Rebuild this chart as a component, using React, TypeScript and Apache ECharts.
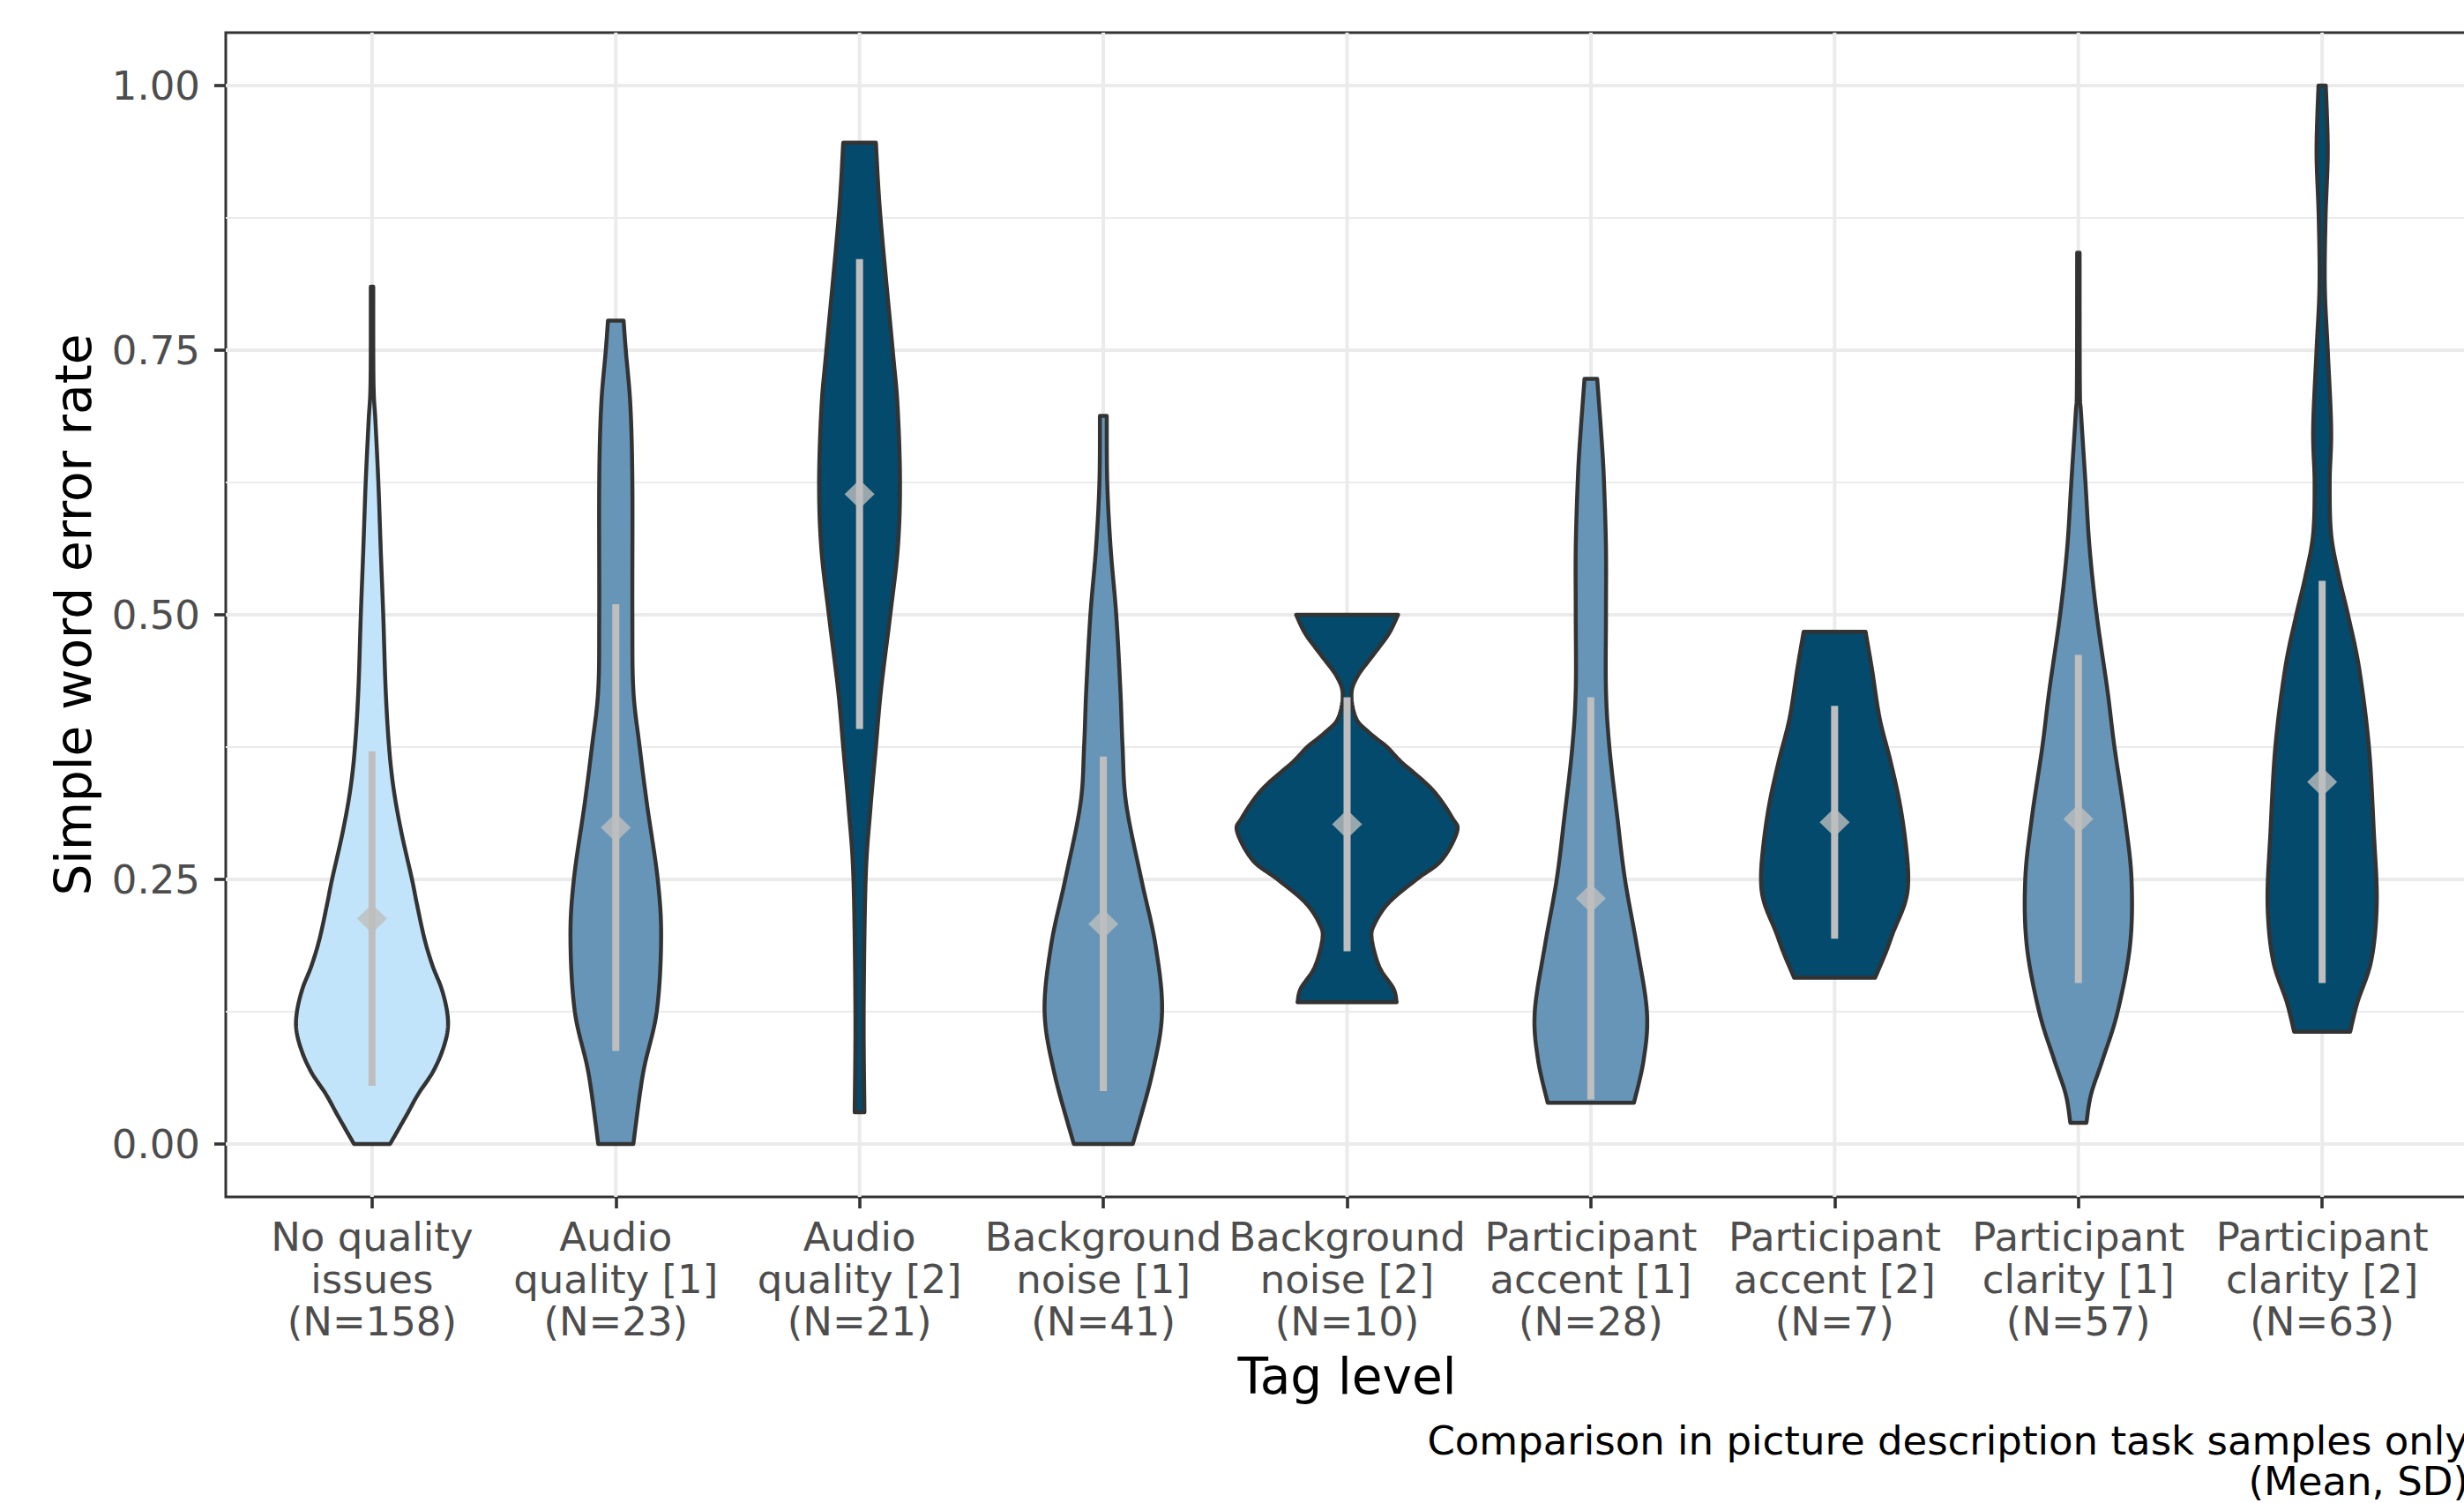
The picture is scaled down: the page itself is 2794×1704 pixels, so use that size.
import React, { useEffect, useRef } from "react";
import * as echarts from "echarts";

// ---------- data ----------
const tagNames = [
  "No quality\nissues",
  "Audio\nquality [1]",
  "Audio\nquality [2]",
  "Background\nnoise [1]",
  "Background\nnoise [2]",
  "Participant\naccent [1]",
  "Participant\naccent [2]",
  "Participant\nclarity [1]",
  "Participant\nclarity [2]",
];
const sampleSizes = [158, 23, 21, 41, 10, 28, 7, 57, 63];
const tagLevel = [0, 1, 2, 1, 2, 1, 2, 1, 2];

const means = [0.213, 0.299, 0.614, 0.208, 0.302, 0.232, 0.304, 0.307, 0.342];
const sds = [0.158, 0.211, 0.222, 0.158, 0.12, 0.19, 0.11, 0.155, 0.19];

const yMajorTicks = [0, 0.25, 0.5, 0.75, 1];
const yMinorTicks = [0.125, 0.375, 0.625, 0.875];

// violin outlines: [error rate, half width in category units]
const violinNoQuality = [
  [0.0, 0.074], [0.027, 0.141], [0.047, 0.189], [0.067, 0.247], [0.087, 0.287],
  [0.107, 0.31], [0.125, 0.308], [0.147, 0.285], [0.168, 0.249], [0.194, 0.215],
  [0.228, 0.183], [0.25, 0.164], [0.295, 0.12], [0.335, 0.089], [0.375, 0.07],
  [0.429, 0.056], [0.5, 0.046], [0.56, 0.036], [0.625, 0.026], [0.683, 0.014],
  [0.72, 0.006], [0.81, 0.005],
];
const violinAudio1 = [
  [0.0, 0.072], [0.067, 0.112], [0.125, 0.168], [0.194, 0.186], [0.25, 0.172],
  [0.321, 0.128], [0.375, 0.098], [0.429, 0.072], [0.5, 0.068], [0.625, 0.068],
  [0.697, 0.06], [0.75, 0.041], [0.778, 0.032],
];
const violinAudio2 = [
  [0.03, 0.02], [0.125, 0.017], [0.25, 0.025], [0.315, 0.044], [0.375, 0.067],
  [0.429, 0.088], [0.5, 0.126], [0.563, 0.157], [0.625, 0.166], [0.697, 0.156],
  [0.75, 0.136], [0.875, 0.086], [0.946, 0.067],
];
const violinNoise1 = [
  [0.0, 0.121], [0.067, 0.201], [0.125, 0.241], [0.188, 0.214], [0.25, 0.156],
  [0.321, 0.094], [0.375, 0.079], [0.429, 0.07], [0.5, 0.053], [0.563, 0.03],
  [0.625, 0.016], [0.688, 0.014],
];
const violinNoise2 = [
  [0.134, 0.203], [0.147, 0.19], [0.167, 0.133], [0.194, 0.101], [0.208, 0.113],
  [0.228, 0.171], [0.25, 0.285], [0.268, 0.387], [0.295, 0.451], [0.308, 0.432],
  [0.335, 0.349], [0.361, 0.222], [0.375, 0.164], [0.388, 0.094], [0.402, 0.037],
  [0.425, 0.018], [0.442, 0.043], [0.462, 0.107], [0.482, 0.171], [0.5, 0.209],
];
const violinAccent1 = [
  [0.039, 0.177], [0.08, 0.217], [0.125, 0.23], [0.188, 0.188], [0.25, 0.14],
  [0.308, 0.109], [0.375, 0.076], [0.429, 0.062], [0.5, 0.062], [0.563, 0.062],
  [0.625, 0.054], [0.663, 0.045], [0.723, 0.026],
];
const violinAccent2 = [
  [0.157, 0.166], [0.181, 0.21], [0.201, 0.242], [0.228, 0.289], [0.25, 0.302],
  [0.281, 0.293], [0.321, 0.268], [0.362, 0.229], [0.402, 0.185], [0.449, 0.153],
  [0.484, 0.127],
];
const violinClarity1 = [
  [0.02, 0.033], [0.047, 0.052], [0.08, 0.1], [0.125, 0.161], [0.188, 0.212],
  [0.25, 0.218], [0.308, 0.191], [0.375, 0.148], [0.429, 0.119], [0.5, 0.075],
  [0.563, 0.046], [0.625, 0.029], [0.69, 0.011], [0.717, 0.006], [0.842, 0.005],
];
const violinClarity2 = [
  [0.106, 0.115], [0.134, 0.145], [0.174, 0.202], [0.228, 0.224], [0.295, 0.212],
  [0.375, 0.192], [0.449, 0.152], [0.5, 0.106], [0.536, 0.069], [0.576, 0.037],
  [0.625, 0.031], [0.676, 0.037], [0.75, 0.023], [0.81, 0.011], [0.875, 0.014],
  [0.938, 0.023], [1.0, 0.015],
];

const violins = [
  violinNoQuality, violinAudio1, violinAudio2, violinNoise1, violinNoise2,
  violinAccent1, violinAccent2, violinClarity1, violinClarity2,
];

const levelColors = ["#c2e4fa", "#6795b8", "#034a6c"];

// ---------- helpers ----------
function catmullRom(points: number[][], steps = 12): number[][] {
  if (points.length < 3) return points.slice();
  const out: number[][] = [];
  for (let k = 0; k < points.length - 1; k++) {
    const p0 = points[k - 1] || points[k];
    const p1 = points[k];
    const p2 = points[k + 1];
    const p3 = points[k + 2] || points[k + 1];
    for (let s = 0; s < steps; s++) {
      const t = s / steps;
      const t2 = t * t;
      const t3 = t2 * t;
      const f = (a: number, b: number, c: number, d: number) =>
        0.5 * (2 * b + (-a + c) * t + (2 * a - 5 * b + 4 * c - d) * t2 + (-a + 3 * b - 3 * c + d) * t3);
      out.push([f(p0[0], p1[0], p2[0], p3[0]), f(p0[1], p1[1], p2[1], p3[1])]);
    }
  }
  out.push(points[points.length - 1]);
  return out;
}

const FONT = "DejaVu Sans";

export default function App() {
  const ref = useRef<HTMLDivElement>(null);

  useEffect(() => {
    if (!ref.current) return;
    const chart = echarts.init(ref.current, undefined, { renderer: "svg" });
    const xLabels = tagNames.map((t, i) => `${t}\n(N=${sampleSizes[i]})`);
    const catIdx = tagNames.map((_, i) => i);

    const hLine = (ticks: number[], width: number) => ({
      type: "custom",
      z: 1,
      silent: true,
      data: ticks.map((v) => [0, v]),
      renderItem: (params: any, api: any) => {
        const v = ticks[params.dataIndex];
        const a = api.coord([-0.6, v]);
        const b = api.coord([8.6, v]);
        return {
          type: "line",
          shape: { x1: a[0], y1: a[1], x2: b[0], y2: b[1] },
          style: { stroke: "#ebebeb", lineWidth: width },
        };
      },
    });

    const option: any = {
      animation: false,
      backgroundColor: "#ffffff",
      grid: {
        left: 256,
        right: 11,
        top: 37,
        bottom: 347,
        show: true,
        borderColor: "#333333",
        borderWidth: 3,
        backgroundColor: "transparent",
      },
      xAxis: {
        type: "value",
        min: -0.6,
        max: 8.6,
        name: "Tag level",
        nameLocation: "middle",
        nameGap: 175,
        nameTextStyle: { fontFamily: FONT, fontSize: 56.5, color: "#000000", lineHeight: 56 },
        axisLine: { show: false, onZero: false },
        axisTick: {
          show: true,
          length: 13,
          customValues: catIdx,
          lineStyle: { color: "#333333", width: 3.6 },
        },
        axisLabel: {
          show: true,
          customValues: catIdx,
          margin: 21,
          fontFamily: FONT,
          fontSize: 45,
          lineHeight: 48,
          color: "#4d4d4d",
          align: "center",
          formatter: (v: number) => xLabels[Math.round(v)] ?? "",
        },
        splitLine: { show: false },
      },
      yAxis: {
        type: "value",
        min: -0.05,
        max: 1.05,
        name: "Simple word error rate",
        nameLocation: "middle",
        nameRotate: 90,
        nameGap: 145,
        nameTextStyle: { fontFamily: FONT, fontSize: 56.5, color: "#000000", lineHeight: 56 },
        axisLine: { show: false, onZero: false },
        axisTick: {
          show: true,
          length: 13,
          customValues: yMajorTicks,
          lineStyle: { color: "#333333", width: 3.6 },
        },
        axisLabel: {
          show: true,
          customValues: yMajorTicks,
          margin: 29,
          fontFamily: FONT,
          fontSize: 45,
          color: "#4d4d4d",
          formatter: (v: number) => v.toFixed(2),
        },
        splitLine: { show: false },
      },
      graphic: [
        {
          type: "text",
          x: 2799,
          y: 1610,
          style: {
            text: "Comparison in picture description task samples only\n(Mean, SD)",
            textAlign: "right",
            textVerticalAlign: "top",
            verticalAlign: "top",
            fontFamily: FONT,
            fontSize: 45,
            lineHeight: 46,
            fill: "#000000",
          },
        },
      ],
      series: [
        hLine(yMinorTicks, 2.2),
        hLine(yMajorTicks, 4),
        {
          // major vertical gridlines
          type: "custom",
          z: 1,
          silent: true,
          data: catIdx.map((i) => [i, 0]),
          renderItem: (params: any, api: any) => {
            const i = catIdx[params.dataIndex];
            const a = api.coord([i, -0.05]);
            const b = api.coord([i, 1.05]);
            return {
              type: "line",
              shape: { x1: a[0], y1: a[1], x2: b[0], y2: b[1] },
              style: { stroke: "#ebebeb", lineWidth: 4 },
            };
          },
        },
        {
          // violins + SD bars
          type: "custom",
          z: 3,
          silent: true,
          data: catIdx.map((i) => [i, means[i]]),
          renderItem: (params: any, api: any) => {
            const i = params.dataIndex;
            const pts = violins[i];
            const cx = api.coord([i, 0])[0];
            const right = catmullRom(pts.map(([y, w]) => api.coord([i + w, y]))).map(
              (p) => [Math.max(p[0], cx + 0.5), p[1]]
            );
            const left = catmullRom(pts.map(([y, w]) => api.coord([i - w, y])))
              .map((p) => [Math.min(p[0], cx - 0.5), p[1]])
              .reverse();
            const top = api.coord([i, means[i] + sds[i]]);
            const bot = api.coord([i, means[i] - sds[i]]);
            return {
              type: "group",
              children: [
                {
                  type: "polygon",
                  shape: { points: right.concat(left) },
                  style: {
                    fill: levelColors[tagLevel[i]],
                    stroke: "#333333",
                    lineWidth: 4.5,
                    lineJoin: "round",
                  },
                },
                {
                  type: "line",
                  shape: { x1: top[0], y1: top[1], x2: bot[0], y2: bot[1] },
                  style: { stroke: "#bebebe", lineWidth: 8, lineCap: "butt" },
                },
              ],
            };
          },
        },
        {
          type: "scatter",
          z: 5,
          silent: true,
          symbol: "diamond",
          symbolSize: [34, 33],
          itemStyle: { color: "#bebebe" },
          data: means.map((m, i) => [i, m]),
        },
      ],
    };
    chart.setOption(option);
    return () => chart.dispose();
  }, []);

  return (
    <div
      style={{
        position: "fixed",
        left: 0,
        top: 0,
        width: 2794,
        height: 1704,
        overflow: "hidden",
        background: "#ffffff",
      }}
    >
      <div ref={ref} style={{ width: 2810, height: 1704 }} />
    </div>
  );
}
